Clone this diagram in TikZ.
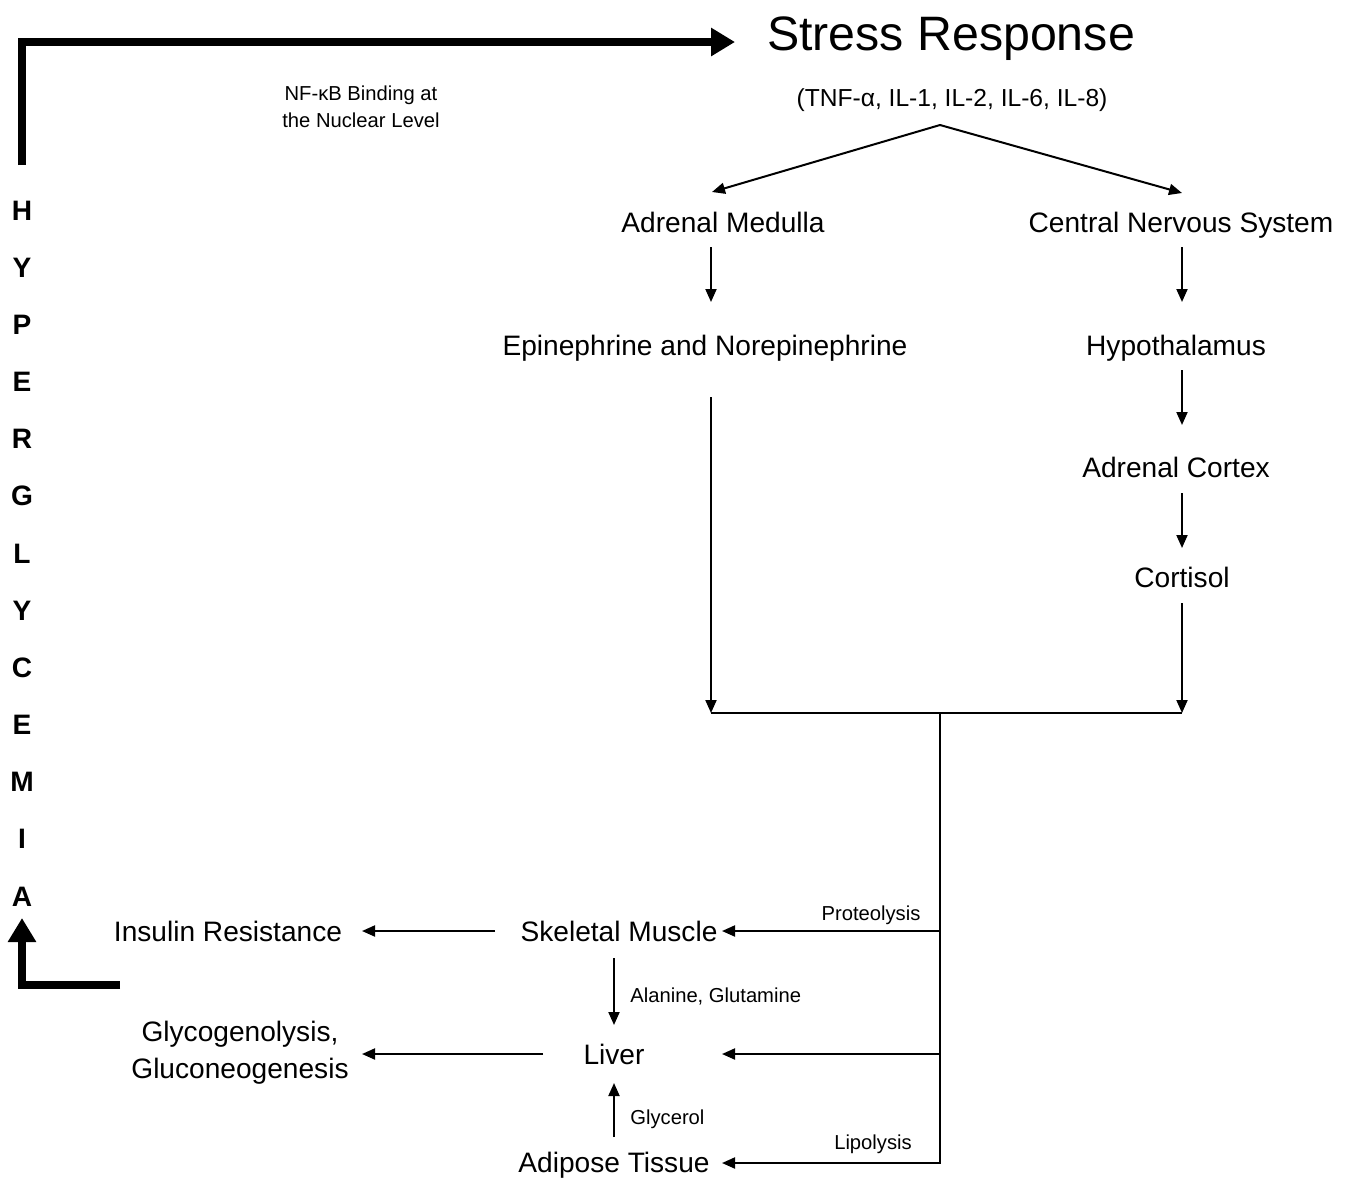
\documentclass[tikz,border=0pt]{standalone}
\usepackage{fontspec}
\setmainfont{Liberation Sans}
\usetikzlibrary{arrows.meta,calc,positioning}
\tikzset{
  txt/.style  = { inner sep=0pt, font=\fontsize{16pt}{19pt}\selectfont },
  lbl/.style  = { txt, text height=11.5pt, text depth=0pt },
  sml/.style  = { inner sep=0pt, text height=8.3pt, text depth=0pt, font=\fontsize{11.5pt}{14pt}\selectfont },
  hlet/.style = { lbl, font=\fontsize{16pt}{19pt}\selectfont\bfseries },
  arr/.style  = { line width=0.04cm, -{Triangle[length=0.26cm,width=0.22cm]} },
  fat/.style  = { line width=0.15cm, -{Triangle[length=0.48cm,width=0.54cm]} }
}
\begin{document}
\begin{tikzpicture}[x=0.02cm, y=-0.02cm]
  \useasboundingbox (0,0) rectangle (1349,1178);
  % stress response and its two branches
  \node[txt, font=\fontsize{27.5pt}{33pt}\selectfont, text height=19.7pt, text depth=0pt] (stress) at (951,33) {Stress Response};
  \node[lbl, font=\fontsize{14pt}{17pt}\selectfont, text height=10pt] (tnf) at (952,98) {(TNF-α, IL-1, IL-2, IL-6, IL-8)};
  \node[txt, align=center, font=\fontsize{11.5pt}{15.3pt}\selectfont] (nfkb) at (361,107) {NF-κB Binding at\\the Nuclear Level};
  \node[lbl] (am) at (723,222) {Adrenal Medulla};
  \node[lbl] (cns) at (1181,222) {Central Nervous System};
  \node[lbl] (epi) at (705,345) {Epinephrine and Norepinephrine};
  \node[lbl] (hyp) at (1176,345) {Hypothalamus};
  \node[lbl] (ac) at (1176,467) {Adrenal Cortex};
  \node[lbl] (cort) at (1182,577) {Cortisol};
  % targets
  \node[lbl] (sk) at (619,931) {Skeletal Muscle};
  \node[lbl] (liv) at (614,1054) {Liver};
  \node[lbl] (adi) at (614,1162) {Adipose Tissue};
  \node[lbl] (ins) at (228,931) {Insulin Resistance};
  \node[txt, align=center, font=\fontsize{16pt}{21pt}\selectfont] (gly) at (240,1053) {Glycogenolysis,\\Gluconeogenesis};
  \node[sml] (prot) at (871,913) {Proteolysis};
  \node[sml] (lipo) at (873,1142) {Lipolysis};
  \node[sml, anchor=west] (ala) at (630,995) {Alanine, Glutamine};
  \node[sml, anchor=west] (glyc) at (630,1117) {Glycerol};
  % vertical word
  \foreach \c [count=\i from 0] in {H,Y,P,E,R,G,L,Y,C,E,M,I,A}
    \node[hlet] (h\i) at (22,210+57.17*\i) {\c};

  \coordinate (apex) at (940,125);
  \coordinate (mL) at (711,713);
  \coordinate (mR) at (1182,713);
  \coordinate (bus) at (940,713);
  \draw[arr] (apex) -- ($(am)+(-11,-30)$);
  \draw[arr] (apex) -- ($(cns)+(1,-29)$);
  \draw[arr] ($(am)+(-12,25)$) -- ($(epi)+(6,-43)$);
  \draw[arr] ($(cns)+(1,25)$) -- ($(hyp)+(6,-43)$);
  \draw[arr] ($(hyp)+(6,25)$) -- ($(ac)+(6,-42)$);
  \draw[arr] ($(ac)+(6,26)$) -- ($(cort)+(0,-29)$);
  \draw[arr] ($(epi)+(6,52)$) -- (mL);
  \draw[arr] ($(cort)+(0,26)$) -- (mR);
  \draw[line width=0.04cm] (mL) -- (mR);
  % bus to the tissues
  \draw[arr] (bus) |- ($(adi)+(108,1)$);
  \draw[arr] (sk -| bus) -- ($(sk)+(103,0)$);
  \draw[arr] (liv -| bus) -- ($(liv)+(108,0)$);
  \draw[arr] ($(sk)+(-5,27)$) -- ($(liv)+(0,-29)$);
  \draw[arr] ($(adi)+(0,-25)$) -- ($(liv)+(0,29)$);
  \draw[arr] ($(sk)+(-124,0)$) -- ($(ins)+(134,0)$);
  \draw[arr] ($(liv)+(-71,0)$) -- ($(gly)+(122,1)$);
  % feedback loop
  \draw[fat] ($(h0)+(0,-45)$) |- ($(stress)+(-216,9)$);
  \draw[fat] ($(ins)+(-108,54)$) -| ($(h12)+(0,22)$);
\end{tikzpicture}
\end{document}
